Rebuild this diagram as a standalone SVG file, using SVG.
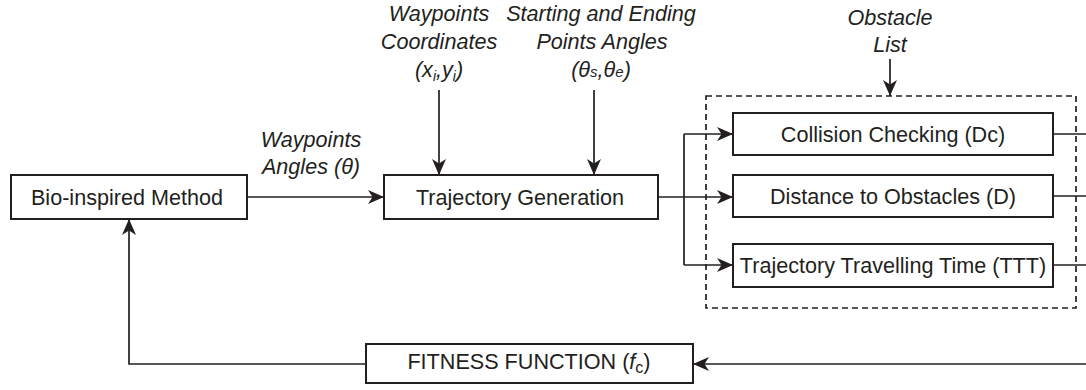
<svg xmlns="http://www.w3.org/2000/svg" width="1086" height="390" viewBox="0 0 1086 390">
<style>
.box{fill:#fff;stroke:#231f20;stroke-width:2}
.lbl{font-family:"Liberation Sans",Arial,sans-serif;font-size:21.6px;fill:#231f20;text-anchor:middle}
.it{font-family:"Liberation Sans",Arial,sans-serif;font-size:21.6px;fill:#231f20;text-anchor:middle;font-style:italic}
.ln{fill:none;stroke:#231f20;stroke-width:1.7}
.dash{fill:none;stroke:#231f20;stroke-width:1.7;stroke-dasharray:6 4}
</style>
<defs>
<marker id="ah" viewBox="0 0 16 14" refX="16" refY="7" markerWidth="16" markerHeight="14" markerUnits="userSpaceOnUse" orient="auto">
<path d="M0,0 L16,7 L0,14 L4.5,7 z" fill="#231f20"/>
</marker>
</defs>
<rect class="dash" x="706" y="96" width="370" height="212"/>
<g id="connectors">
<path class="ln" d="M247,197 H384" marker-end="url(#ah)"/>
<path class="ln" d="M439,90 V175" marker-end="url(#ah)"/>
<path class="ln" d="M594,90 V175" marker-end="url(#ah)"/>
<path class="ln" d="M890,59 V96" marker-end="url(#ah)"/>
<path class="ln" d="M658,197 H733" marker-end="url(#ah)"/>
<path class="ln" d="M684,134 V265"/>
<path class="ln" d="M684,134 H733" marker-end="url(#ah)"/>
<path class="ln" d="M684,265 H733" marker-end="url(#ah)"/>
<path class="ln" d="M1053,134 H1086"/>
<path class="ln" d="M1053,196 H1086"/>
<path class="ln" d="M1053,265 H1086"/>
<path class="ln" d="M1086,364 H693" marker-end="url(#ah)"/>
<path class="ln" d="M366,364 H129 V219" marker-end="url(#ah)"/>
</g>
<g id="bio">
<rect class="box" x="11" y="175" width="236" height="44"/>
<text class="lbl" x="127" y="204.5">Bio-inspired Method</text>
</g>
<g id="traj">
<rect class="box" x="384" y="175" width="274" height="44"/>
<text class="lbl" x="520" y="204.5">Trajectory Generation</text>
</g>
<g id="collision">
<rect class="box" x="733" y="113" width="320" height="42"/>
<text class="lbl" x="893" y="142">Collision Checking (Dc)</text>
</g>
<g id="distance">
<rect class="box" x="733" y="175" width="320" height="42"/>
<text class="lbl" x="893" y="204">Distance to Obstacles (D)</text>
</g>
<g id="ttt">
<rect class="box" x="733" y="244" width="320" height="43"/>
<text class="lbl" x="893" y="273">Trajectory Travelling Time (TTT)</text>
</g>
<g id="fitness">
<rect class="box" x="366" y="344" width="327" height="39"/>
<text class="lbl" x="529" y="368.5" font-size="22.5">FITNESS FUNCTION (<tspan font-style="italic">f</tspan><tspan font-size="16" dy="4">c</tspan><tspan dy="-4">)</tspan></text>
</g>
<g id="label-angles">
<text class="it" x="311" y="147">Waypoints</text>
<text class="it" x="311" y="174">Angles (θ)</text>
</g>
<g id="label-coords">
<text class="it" x="439" y="21">Waypoints</text>
<text class="it" x="439" y="49">Coordinates</text>
<text class="it" x="439" y="77">(x<tspan font-size="14" dy="4">i</tspan><tspan dy="-4">,y</tspan><tspan font-size="14" dy="4">i</tspan><tspan dy="-4">)</tspan></text>
</g>
<g id="label-se">
<text class="it" x="601" y="21">Starting and Ending</text>
<text class="it" x="602" y="49">Points Angles</text>
<text class="it" x="601" y="77">(θ<tspan font-size="15">s</tspan>,θ<tspan font-size="15">e</tspan>)</text>
</g>
<g id="label-obstacle">
<text class="it" x="890" y="25">Obstacle</text>
<text class="it" x="890" y="52">List</text>
</g>
</svg>
